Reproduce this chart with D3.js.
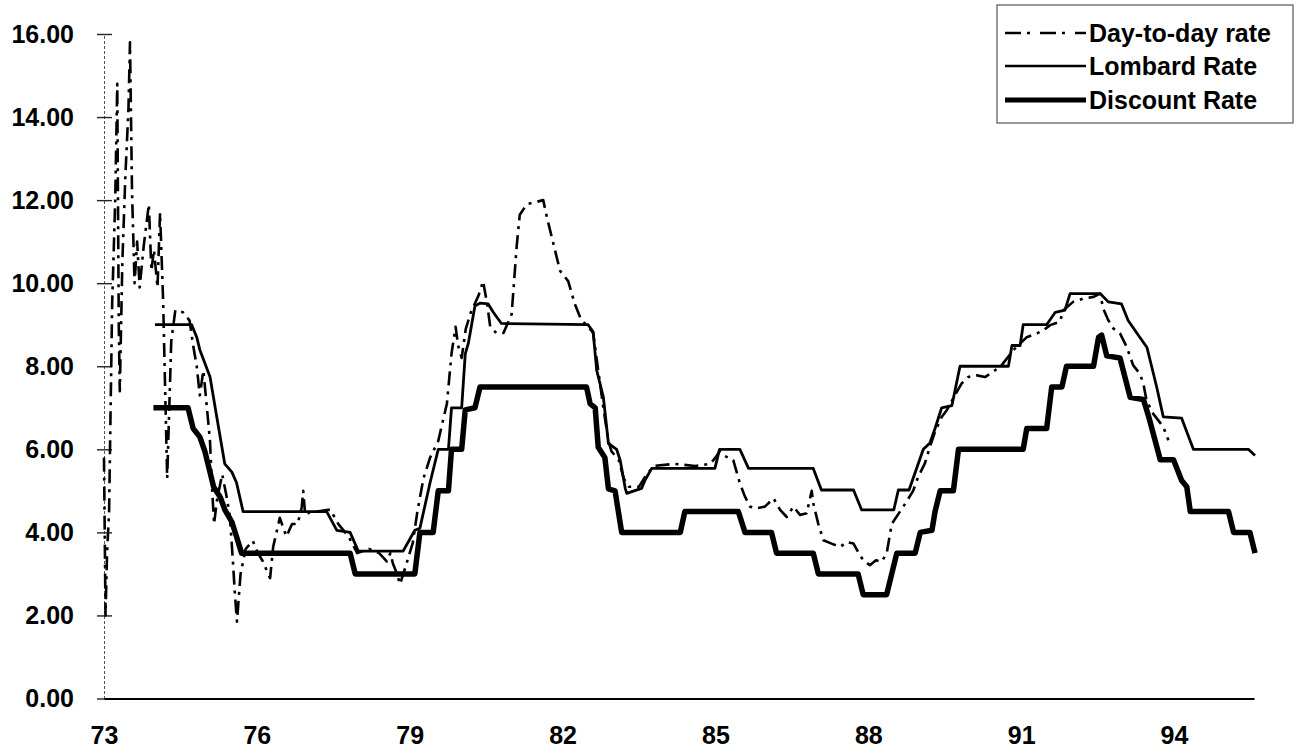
<!DOCTYPE html>
<html>
<head>
<meta charset="utf-8">
<script src="https://cdn.jsdelivr.net/npm/d3@7"></script>
<style>
  body { margin: 0; background: #fff; }
  svg text { font-family: "Liberation Sans", Arial, sans-serif; font-weight: bold; fill: #000; }
</style>
</head>
<body>
<div id="chart"></div>
<script>
// --data (year, rate in %)--
const xTicks = [1973, 1976, 1979, 1982, 1985, 1988, 1991, 1994];
const yTicks = [0, 2, 4, 6, 8, 10, 12, 14, 16];

const dayToDay = [
  [1973.00, 5.8], [1973.03, 2.0], [1973.06, 3.5], [1973.10, 4.5], [1973.16, 9.5],
  [1973.22, 12.0], [1973.26, 14.8], [1973.29, 9.0], [1973.31, 7.4], [1973.36, 10.5],
  [1973.42, 12.6], [1973.48, 14.2], [1973.51, 15.8], [1973.55, 12.2], [1973.60, 10.0],
  [1973.65, 11.0], [1973.70, 9.9], [1973.78, 10.9], [1973.88, 11.9], [1973.93, 10.3],
  [1973.98, 10.8], [1974.05, 9.9], [1974.10, 11.7], [1974.16, 9.6], [1974.24, 5.3],
  [1974.32, 8.6], [1974.40, 9.35], [1974.55, 9.3], [1974.68, 9.1], [1974.75, 8.5],
  [1974.82, 8.0], [1974.88, 7.3], [1974.95, 7.9], [1975.02, 7.0], [1975.08, 6.2],
  [1975.12, 5.1], [1975.16, 4.2], [1975.22, 4.8], [1975.32, 5.4], [1975.40, 4.9],
  [1975.47, 4.4], [1975.53, 3.3], [1975.57, 2.5], [1975.61, 1.85], [1975.68, 3.0],
  [1975.78, 3.6], [1975.85, 3.7], [1975.92, 3.8], [1976.02, 3.5], [1976.12, 3.3],
  [1976.22, 3.0], [1976.26, 2.9], [1976.32, 3.65], [1976.45, 4.35], [1976.58, 3.9],
  [1976.69, 4.2], [1976.80, 4.2], [1976.88, 4.6], [1976.91, 5.0], [1976.95, 4.4],
  [1977.05, 4.5], [1977.18, 4.5], [1977.44, 4.55], [1977.60, 4.2], [1977.80, 3.9],
  [1977.97, 3.5], [1978.20, 3.6], [1978.40, 3.5], [1978.55, 3.3], [1978.62, 3.5],
  [1978.67, 3.25], [1978.75, 3.0], [1978.81, 2.75], [1978.90, 3.1], [1979.06, 3.75],
  [1979.15, 4.5], [1979.27, 5.3], [1979.40, 5.8], [1979.56, 6.2], [1979.73, 7.1],
  [1979.82, 8.3], [1979.90, 8.95], [1979.95, 8.5], [1980.02, 8.2], [1980.10, 8.9],
  [1980.20, 9.3], [1980.35, 9.7], [1980.44, 10.05], [1980.52, 9.5], [1980.58, 8.95],
  [1980.70, 8.8], [1980.84, 8.8], [1981.00, 9.25], [1981.10, 10.9], [1981.16, 11.65],
  [1981.30, 11.9], [1981.46, 11.95], [1981.62, 12.0], [1981.69, 11.6], [1981.82, 10.95],
  [1981.95, 10.3], [1982.11, 10.05], [1982.24, 9.5], [1982.37, 9.1], [1982.47, 9.0],
  [1982.60, 8.8], [1982.70, 7.9], [1982.80, 7.0], [1982.90, 6.2], [1982.96, 5.95],
  [1983.10, 5.75], [1983.20, 5.3], [1983.30, 5.1], [1983.50, 5.1], [1983.65, 5.4],
  [1983.80, 5.6], [1984.20, 5.65], [1984.60, 5.6], [1984.90, 5.65], [1985.00, 5.8],
  [1985.08, 5.95], [1985.15, 5.86], [1985.35, 5.74], [1985.48, 5.18], [1985.58, 4.86],
  [1985.68, 4.62], [1985.80, 4.58], [1985.97, 4.62], [1986.14, 4.82], [1986.27, 4.54],
  [1986.40, 4.37], [1986.53, 4.62], [1986.66, 4.42], [1986.79, 4.46], [1986.89, 5.0],
  [1986.92, 4.7], [1987.02, 4.2], [1987.12, 3.81], [1987.28, 3.73], [1987.45, 3.65],
  [1987.58, 3.77], [1987.71, 3.73], [1987.80, 3.53], [1987.90, 3.33], [1988.03, 3.21],
  [1988.15, 3.33], [1988.26, 3.29], [1988.36, 3.49], [1988.46, 4.2], [1988.75, 4.74],
  [1988.88, 5.0], [1988.98, 5.34], [1989.11, 5.66], [1989.21, 6.06], [1989.31, 6.42],
  [1989.44, 6.78], [1989.54, 6.94], [1989.70, 7.3], [1989.83, 7.58], [1989.96, 7.74],
  [1990.13, 7.78], [1990.29, 7.74], [1990.39, 7.82], [1990.60, 8.0], [1990.85, 8.39],
  [1991.11, 8.7], [1991.31, 8.79], [1991.44, 8.87], [1991.57, 8.99], [1991.76, 9.07],
  [1991.83, 9.35], [1992.02, 9.55], [1992.22, 9.63], [1992.42, 9.67], [1992.55, 9.75],
  [1992.61, 9.39], [1992.71, 9.11], [1992.81, 8.91], [1992.94, 8.79], [1993.07, 8.47],
  [1993.20, 8.02], [1993.33, 7.82], [1993.40, 7.58], [1993.46, 7.18], [1993.59, 6.86],
  [1993.79, 6.54], [1993.89, 6.22]
];

const lombard = [
  [1974.00, 9.0], [1974.72, 9.0], [1974.82, 8.7], [1974.88, 8.4], [1975.08, 7.75],
  [1975.21, 6.8], [1975.37, 5.65], [1975.51, 5.45], [1975.60, 5.2], [1975.73, 4.5],
  [1977.37, 4.5], [1977.57, 4.05], [1977.83, 4.0], [1977.99, 3.55], [1978.87, 3.55],
  [1979.10, 4.05], [1979.20, 4.1], [1979.40, 5.2], [1979.56, 6.0], [1979.76, 6.0],
  [1979.82, 7.0], [1980.02, 7.0], [1980.09, 8.3], [1980.15, 8.55], [1980.28, 9.45],
  [1980.38, 9.52], [1980.54, 9.5], [1980.64, 9.3], [1980.80, 9.03], [1982.50, 9.0],
  [1982.60, 8.83], [1982.67, 7.9], [1982.80, 7.26], [1982.90, 6.14], [1983.06, 6.0],
  [1983.13, 5.74], [1983.23, 5.06], [1983.26, 4.94], [1983.55, 5.06], [1983.62, 5.26],
  [1983.75, 5.54], [1984.99, 5.54], [1985.08, 6.0], [1985.48, 6.0], [1985.65, 5.54],
  [1986.92, 5.54], [1987.08, 5.02], [1987.71, 5.02], [1987.87, 4.54], [1988.50, 4.54],
  [1988.59, 5.02], [1988.80, 5.02], [1989.08, 6.0], [1989.21, 6.15], [1989.31, 6.5],
  [1989.44, 7.0], [1989.64, 7.05], [1989.80, 8.0], [1990.75, 8.0], [1990.82, 8.5],
  [1990.98, 8.5], [1991.04, 9.0], [1991.50, 9.0], [1991.67, 9.3], [1991.86, 9.35],
  [1991.96, 9.75], [1992.55, 9.75], [1992.71, 9.55], [1992.97, 9.5], [1993.10, 9.1],
  [1993.27, 8.8], [1993.47, 8.45], [1993.53, 8.15], [1993.66, 7.5], [1993.79, 6.78],
  [1994.15, 6.75], [1994.38, 6.0], [1995.46, 6.0], [1995.59, 5.85]
];

const discount = [
  [1973.97, 7.0], [1974.65, 7.0], [1974.75, 6.5], [1974.88, 6.3], [1974.98, 5.95],
  [1975.15, 5.1], [1975.28, 4.85], [1975.37, 4.55], [1975.51, 4.25], [1975.60, 3.9],
  [1975.70, 3.5], [1977.83, 3.5], [1977.93, 3.0], [1979.10, 3.0], [1979.20, 4.0],
  [1979.46, 4.0], [1979.56, 5.0], [1979.76, 5.0], [1979.82, 6.0], [1980.02, 6.0],
  [1980.09, 6.95], [1980.28, 7.0], [1980.38, 7.5], [1982.47, 7.5], [1982.54, 7.1],
  [1982.64, 7.0], [1982.70, 6.05], [1982.83, 5.8], [1982.90, 5.05], [1983.03, 5.0],
  [1983.16, 4.0], [1984.31, 4.0], [1984.40, 4.5], [1985.45, 4.5], [1985.58, 4.0],
  [1986.10, 4.0], [1986.20, 3.5], [1986.92, 3.5], [1987.02, 3.0], [1987.80, 3.0],
  [1987.90, 2.5], [1988.36, 2.5], [1988.56, 3.5], [1988.92, 3.5], [1989.02, 4.0],
  [1989.25, 4.05], [1989.31, 4.5], [1989.41, 5.0], [1989.67, 5.0], [1989.77, 6.0],
  [1991.04, 6.0], [1991.11, 6.5], [1991.50, 6.5], [1991.60, 7.5], [1991.80, 7.5],
  [1991.89, 8.0], [1992.42, 8.0], [1992.52, 8.7], [1992.58, 8.75], [1992.68, 8.25],
  [1992.94, 8.2], [1993.14, 7.25], [1993.40, 7.2], [1993.50, 6.8], [1993.73, 5.75],
  [1993.99, 5.75], [1994.15, 5.25], [1994.25, 5.1], [1994.32, 4.5], [1995.07, 4.5],
  [1995.17, 4.0], [1995.49, 4.0], [1995.59, 3.5]
];

const seriesNames = ["Day-to-day rate", "Lombard Rate", "Discount Rate"];

// --graph--
const WIDTH = 1304;
const HEIGHT = 755;

var svg = d3.select("#chart")
  .append("svg")
  .attr("width", WIDTH)
  .attr("height", HEIGHT);

var x = d3.scaleLinear().domain([1973, 1995.57]).range([104, 1254]);
var y = d3.scaleLinear().domain([0, 16]).range([698.5, 34]);

// y axis: dotted spine, cross ticks, labels like 16.00
var yAxis = svg.append("g")
  .attr("transform", "translate(104,0)")
  .call(d3.axisLeft(y).tickValues(yTicks).tickFormat(d3.format(".2f")).tickSize(0).tickPadding(30));

yAxis.select(".domain")
  .attr("stroke", "#555")
  .attr("stroke-width", 1)
  .attr("stroke-dasharray", "3,2");

yAxis.selectAll(".tick line")
  .attr("x1", -7)
  .attr("x2", 8)
  .attr("stroke", "#222")
  .attr("stroke-width", 1.4);

yAxis.selectAll(".tick text")
  .style("font-size", "25px");

// x axis: solid baseline, two digit year labels
var xAxis = svg.append("g")
  .attr("transform", "translate(0,698.5)")
  .call(d3.axisBottom(x).tickValues(xTicks).tickFormat(d => String(d).slice(2)).tickSize(0).tickPadding(28));

xAxis.select(".domain")
  .attr("stroke", "#000")
  .attr("stroke-width", 2);

xAxis.selectAll(".tick text")
  .style("font-size", "25px");

// lines
var line = d3.line()
  .x(d => x(d[0]))
  .y(d => y(d[1]));

var styles = [
  { data: dayToDay, width: 2.6, dash: "14,6,3,6" },
  { data: lombard, width: 2.8, dash: null },
  { data: discount, width: 5.5, dash: null }
];

styles.forEach(function(s) {
  svg.append("path")
    .datum(s.data)
    .attr("fill", "none")
    .attr("stroke", "#000")
    .attr("stroke-width", s.width)
    .attr("stroke-linejoin", "round")
    .attr("stroke-dasharray", s.dash)
    .attr("d", line);
});

// legend
var legend = svg.append("g");

legend.append("rect")
  .attr("x", 997)
  .attr("y", 5)
  .attr("width", 296)
  .attr("height", 118)
  .attr("fill", "#fff")
  .attr("stroke", "#555")
  .attr("stroke-width", 1.2);

var rows = [33, 66, 100];

seriesNames.forEach(function(name, i) {
  legend.append("line")
    .attr("x1", 1005)
    .attr("x2", 1086)
    .attr("y1", rows[i])
    .attr("y2", rows[i])
    .attr("stroke", "#000")
    .attr("stroke-width", i == 2 ? 5 : (i == 1 ? 2.6 : 2.4))
    .attr("stroke-dasharray", i == 0 ? "16,6,3,10" : null);

  legend.append("text")
    .attr("x", 1089)
    .attr("y", rows[i])
    .attr("dy", "0.35em")
    .style("font-size", "25px")
    .text(name);
});
</script>
</body>
</html>
